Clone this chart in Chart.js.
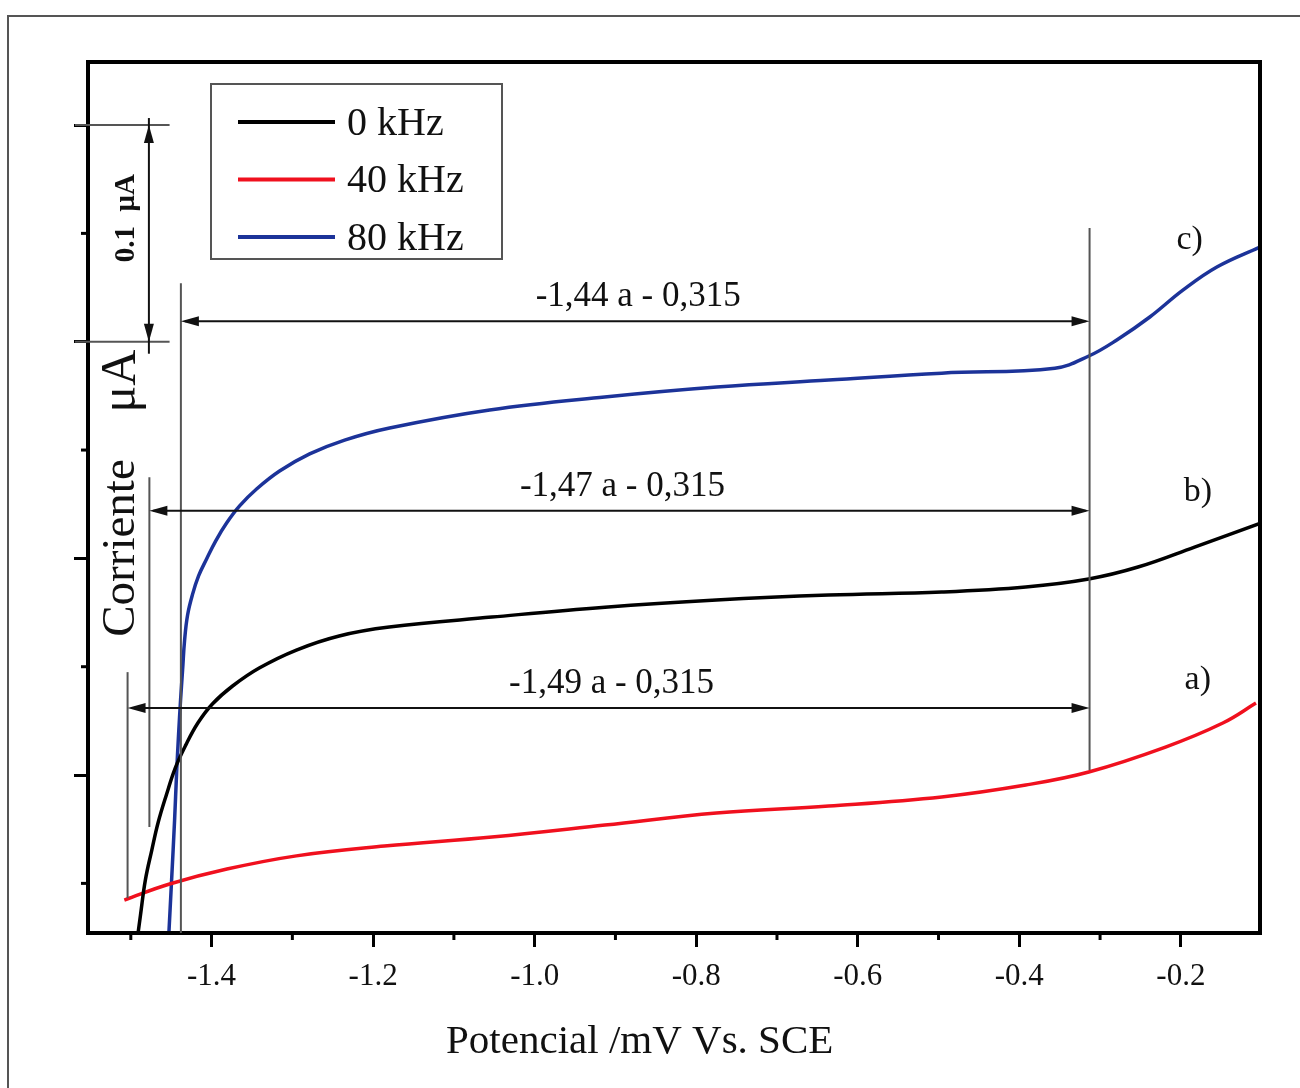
<html>
<head>
<meta charset="utf-8">
<style>
    body { margin: 0; background: #fff; }
</style>
</head>
<body>
<canvas id="polarizacion" width="1300" height="1088"></canvas>

<script src="https://cdn.jsdelivr.net/npm/chart.js"></script>

<script>
    // curvas: potencial (V vs SCE) y corriente (uA)
    var pot_0k = [-1.493, -1.488, -1.482, -1.474, -1.466, -1.456, -1.445, -1.432, -1.417, -1.399, -1.374, -1.341, -1.295, -1.242, -1.180, -1.053, -0.913, -0.775, -0.636, -0.496, -0.392, -0.314, -0.253, -0.183, -0.101];
    var cur_0k = [0.0215, 0.0354, 0.0515, 0.0654, 0.0783, 0.0908, 0.1032, 0.1138, 0.1240, 0.1328, 0.1411, 0.1494, 0.1577, 0.1642, 0.1683, 0.1729, 0.1775, 0.1808, 0.1831, 0.1845, 0.1868, 0.1905, 0.1960, 0.2052, 0.2163];

    var pot_40k = [-1.508, -1.452, -1.381, -1.295, -1.186, -1.053, -0.913, -0.775, -0.636, -0.496, -0.392, -0.314, -0.219, -0.148, -0.107];
    var cur_40k = [0.0423, 0.0497, 0.0566, 0.0627, 0.0672, 0.0714, 0.0769, 0.0825, 0.0857, 0.0899, 0.0954, 0.1014, 0.1129, 0.1240, 0.1332];

    var pot_80k = [-1.4533, -1.4495, -1.4458, -1.4433, -1.4409, -1.4384, -1.4359, -1.4334, -1.4297, -1.4235, -1.4161, -1.4062, -1.3950, -1.3814, -1.3653, -1.3443, -1.3158, -1.2786, -1.2353, -1.1796, -1.0557, -0.9133, -0.7746, -0.6359, -0.4960, -0.3560, -0.3139, -0.2793, -0.2384, -0.1975, -0.1554, -0.1022];
    var cur_80k = [0.0239, 0.0515, 0.0792, 0.1009, 0.1185, 0.1346, 0.1485, 0.1623, 0.1739, 0.1835, 0.1919, 0.1997, 0.2080, 0.2163, 0.2242, 0.2320, 0.2403, 0.2482, 0.2546, 0.2602, 0.2685, 0.2745, 0.2791, 0.2823, 0.2855, 0.2878, 0.2934, 0.3008, 0.3114, 0.3238, 0.3345, 0.3437];

    var series_names = ['0 kHz', '40 kHz', '80 kHz'];
    var series_tags = ['b)', 'a)', 'c)'];
    var x_title = 'Potencial /mV Vs. SCE';

    // intervalos marcados con flechas
    var range_labels = ['-1,49 a - 0,315', '-1,47 a - 0,315', '-1,44 a - 0,315'];
    var range_start = [-1.504, -1.477, -1.438];
    var range_end = -0.313;
    var range_level = [0.131, 0.222, 0.3095];

    function pairs(xs, ys) {
        return xs.map(function (x, i) { return {x: x, y: ys[i]}; });
    }

    var serif = '"Liberation Serif", "DejaVu Serif", serif';

    function head(ctx, x, y, dir) {
        var l = 18, w = 5;
        ctx.beginPath();
        ctx.moveTo(x, y);
        if (dir === 'left') { ctx.lineTo(x + l, y - w); ctx.lineTo(x + l, y + w); }
        if (dir === 'right') { ctx.lineTo(x - l, y - w); ctx.lineTo(x - l, y + w); }
        if (dir === 'up') { ctx.lineTo(x - w, y + l); ctx.lineTo(x + w, y + l); }
        if (dir === 'down') { ctx.lineTo(x - w, y - l); ctx.lineTo(x + w, y - l); }
        ctx.closePath();
        ctx.fill();
    }

    function line(ctx, x1, y1, x2, y2) {
        ctx.beginPath();
        ctx.moveTo(x1, y1);
        ctx.lineTo(x2, y2);
        ctx.stroke();
    }

    function vtext(ctx, txt, x, y, font) {
        ctx.save();
        ctx.translate(x, y);
        ctx.rotate(-Math.PI / 2);
        ctx.font = font;
        ctx.textAlign = 'center';
        ctx.textBaseline = 'middle';
        ctx.fillText(txt, 0, 0);
        ctx.restore();
    }

    var decor = {
        id: 'decor',
        beforeDraw: function (chart) {
            var ctx = chart.ctx;
            ctx.save();
            ctx.fillStyle = '#fff';
            ctx.fillRect(0, 0, chart.width, chart.height);
            ctx.strokeStyle = '#555';
            ctx.lineWidth = 2;
            ctx.strokeRect(8, 16, chart.width + 40, chart.height + 40);
            ctx.restore();
        },
        afterDatasetsDraw: function (chart) {
            var ctx = chart.ctx;
            var ca = chart.chartArea;
            var xs = chart.scales.x, ys = chart.scales.y;
            var X = function (v) { return xs.getPixelForValue(v); };
            var Y = function (v) { return ys.getPixelForValue(v); };

            ctx.save();

            // marco del grafico
            ctx.strokeStyle = '#000';
            ctx.lineWidth = 4;
            ctx.strokeRect(ca.left, ca.top, ca.right - ca.left, ca.bottom - ca.top);

            // ticks menores
            ctx.lineWidth = 3;
            for (var v = -1.5; v < -0.15; v += 0.2) line(ctx, X(v), ca.bottom, X(v), ca.bottom + 7);
            for (var w = 0.05; w < 0.43; w += 0.1) line(ctx, ca.left, Y(w), ca.left - 7, Y(w));

            // titulo del eje x
            ctx.fillStyle = '#111';
            ctx.font = '41px ' + serif;
            ctx.textAlign = 'center';
            ctx.textBaseline = 'middle';
            ctx.fillText(x_title, X(-0.870), ca.bottom + 109);

            // lineas guia verticales
            ctx.strokeStyle = '#555';
            ctx.lineWidth = 2;
            line(ctx, X(range_end), Y(0.3525), X(range_end), Y(0.1023));
            line(ctx, X(range_start[2]), Y(0.327), X(range_start[2]), ca.bottom);
            line(ctx, X(range_start[1]), Y(0.2375), X(range_start[1]), Y(0.076));
            line(ctx, X(range_start[0]), Y(0.1475), X(range_start[0]), Y(0.0432));

            // flechas de intervalo
            ctx.strokeStyle = '#111';
            ctx.fillStyle = '#111';
            ctx.font = '35px ' + serif;
            ctx.textAlign = 'center';
            ctx.textBaseline = 'alphabetic';
            for (var i = 0; i < range_labels.length; i++) {
                var x1 = X(range_start[i]), x2 = X(range_end), yy = Y(range_level[i]);
                line(ctx, x1 + 4, yy, x2 - 4, yy);
                head(ctx, x1, yy, 'left');
                head(ctx, x2, yy, 'right');
                ctx.fillText(range_labels[i], (x1 + x2) / 2 + 3, yy - 15);
            }

            // etiquetas a) b) c)
            ctx.font = '34px ' + serif;
            ctx.textBaseline = 'middle';
            ctx.fillText(series_tags[1], X(-0.179), Y(0.1439));
            ctx.fillText(series_tags[0], X(-0.179), Y(0.2306));
            ctx.fillText(series_tags[2], X(-0.189), Y(0.347));

            // barra de escala 0.1 uA
            ctx.strokeStyle = '#555';
            ctx.lineWidth = 2;
            line(ctx, ca.left - 13, Y(0.4), X(-1.452), Y(0.4));
            line(ctx, ca.left - 13, Y(0.3), X(-1.452), Y(0.3));
            ctx.strokeStyle = '#111';
            var bx = X(-1.4776);
            line(ctx, bx, Y(0.4) - 7, bx, Y(0.3) + 12);
            head(ctx, bx, Y(0.4), 'up');
            head(ctx, bx, Y(0.3), 'down');

            // textos rotados
            vtext(ctx, '0.1  \u03bcA', X(-1.5053), Y(0.357), 'bold 29px ' + serif);
            vtext(ctx, 'Corriente', X(-1.5115), Y(0.2048), '47px ' + serif);
            vtext(ctx, '\u03bcA', X(-1.5115), Y(0.2818), '50px ' + serif);

            // leyenda
            var lx = ca.left + 123, ly = ca.top + 22;
            ctx.strokeStyle = '#555';
            ctx.lineWidth = 2;
            ctx.strokeRect(lx, ly, 291, 175);
            ctx.font = '40px ' + serif;
            ctx.textAlign = 'left';
            ctx.textBaseline = 'middle';
            chart.data.datasets.forEach(function (ds, k) {
                var ry = ly + 38 + k * 57.5;
                ctx.strokeStyle = ds.borderColor;
                ctx.lineWidth = 4;
                line(ctx, lx + 27, ry, lx + 124, ry);
                ctx.fillStyle = '#111';
                ctx.fillText(ds.label, lx + 136, ry + 2);
            });

            ctx.restore();
        }
    };

    var colors = ['#000000', '#f0101e', '#1c3399'];

    var chart = new Chart(document.getElementById('polarizacion'), {
        type: 'line',
        data: {
            datasets: [
                {label: series_names[0], data: pairs(pot_0k, cur_0k), borderColor: colors[0]},
                {label: series_names[1], data: pairs(pot_40k, cur_40k), borderColor: colors[1]},
                {label: series_names[2], data: pairs(pot_80k, cur_80k), borderColor: colors[2]}
            ]
        },
        options: {
            responsive: false,
            animation: false,
            layout: { padding: { left: 0, top: 62, right: 40, bottom: 0 } },
            elements: {
                point: { radius: 0 },
                line: { borderWidth: 3.5, tension: 0.4, fill: false }
            },
            plugins: {
                legend: { display: false },
                tooltip: { enabled: false }
            },
            scales: {
                x: {
                    type: 'linear',
                    min: -1.553,
                    max: -0.102,
                    afterFit: function (s) { s.height = 155; },
                    border: { display: false },
                    grid: { drawOnChartArea: false, tickLength: 14, tickWidth: 3, tickColor: '#000' },
                    ticks: {
                        stepSize: 0.2,
                        includeBounds: false,
                        padding: 11,
                        color: '#111',
                        font: { family: serif, size: 31 },
                        callback: function (v) { return v.toFixed(1); }
                    },
                    title: { display: false }
                },
                y: {
                    min: 0.0271,
                    max: 0.4291,
                    afterFit: function (s) { s.width = 88; },
                    border: { display: false },
                    grid: { drawOnChartArea: false, tickLength: 14, tickWidth: 3, tickColor: '#000' },
                    ticks: { stepSize: 0.1, includeBounds: false, display: false }
                }
            }
        },
        plugins: [decor]
    });
</script>
</body>
</html>
